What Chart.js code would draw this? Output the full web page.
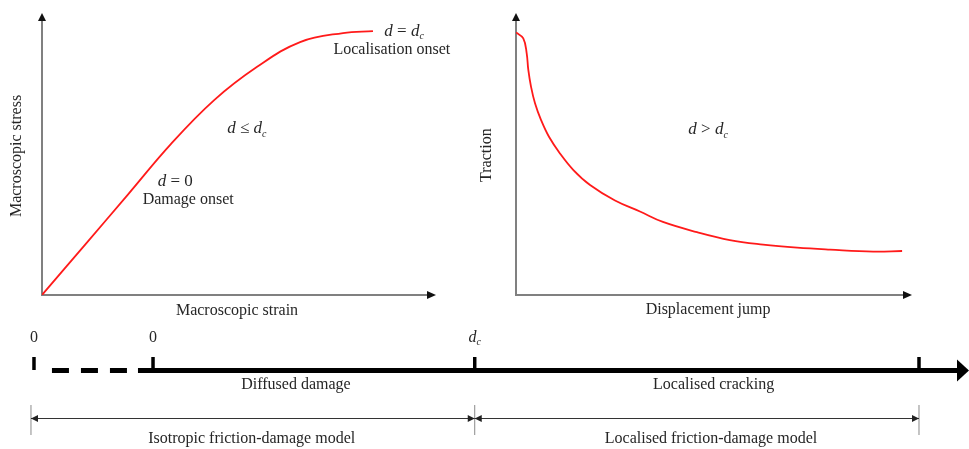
<!DOCTYPE html>
<html>
<head>
<meta charset="utf-8">
<script src="https://cdn.jsdelivr.net/npm/chart.js@4"></script>
<style>
  html, body { margin: 0; padding: 0; background: #fff; }
  #wrap { position: relative; width: 969px; height: 449px; overflow: hidden; }
  .box { position: absolute; }
</style>
</head>
<body>
<div id="wrap">
  <div class="box" style="left:0;top:0;width:470px;height:325px"><canvas id="stressChart"></canvas></div>
  <div class="box" style="left:470px;top:0;width:499px;height:325px"><canvas id="tractionChart"></canvas></div>
  <div class="box" style="left:0;top:320px;width:969px;height:129px"><canvas id="stageChart"></canvas></div>
</div>
<script>
// DATA
// left panel: macroscopic stress vs strain (arbitrary units, 0-100)
const strain = [0, 10.9, 21.8, 32.7, 43.7, 54.6, 65.5, 76.4, 84.0];
const stress = [0, 17.8, 35.6, 53.5, 69.1, 80.9, 89.7, 92.9, 93.6];

// right panel: traction vs displacement jump
const jump     = [0, 1.84, 2.70, 3.11, 3.79, 4.80, 6.31, 8.33, 11.1, 14.5, 18.7, 25.0, 31.3, 37.1, 45.7, 54.0, 62.4, 71.0, 79.3, 90.2, 97.5];
const traction = [93.1, 91.0, 85.7, 79.8, 73.9, 68.0, 62.1, 56.1, 50.2, 44.3, 39.0, 33.5, 29.6, 25.9, 22.3, 19.5, 17.9, 16.8, 16.1, 15.4, 15.6];

// bottom: damage stages
const stageTicks = [0, 0.1345, 0.498, 1];
const stageTickLabels = ['0', '0', 'd_c', ''];
const dashedSpan = [0.0203, 0.1175];
const solidSpan = [0.1175, 1.046];
const phaseLabels = ['Diffused damage', 'Localised cracking'];
const phaseLabelAt = [0.296, 0.768];
const modelSpans = [[-0.0034, 0.498], [0.498, 1]];
const modelLabels = ['Isotropic friction-damage model', 'Localised friction-damage model'];
const modelLabelAt = [0.246, 0.765];

const SERIF = '"Liberation Serif", "Times New Roman", serif';
const INK = '#262626';

// draws text made of parts: n = normal, i = italic, s = italic subscript
function drawParts(ctx, parts, cx, cy, size) {
  const fontOf = (st) => st === 'n' ? `${size}px ${SERIF}` :
    st === 'i' ? `italic ${size}px ${SERIF}` : `italic ${Math.round(size * 0.6)}px ${SERIF}`;
  let total = 0;
  parts.forEach(([t, st]) => { ctx.font = fontOf(st); total += ctx.measureText(t).width; });
  let x = cx - total / 2;
  ctx.fillStyle = INK;
  ctx.textAlign = 'left';
  ctx.textBaseline = 'middle';
  parts.forEach(([t, st]) => {
    ctx.font = fontOf(st);
    ctx.fillText(t, x, st === 's' ? cy + size * 0.32 : cy);
    x += ctx.measureText(t).width;
  });
}

function mathOf(label) {
  if (label === 'd_c') return [['d', 'i'], ['c', 's']];
  return [[label, 'n']];
}

function arrowHead(ctx, x, y, dir, len, half) {
  ctx.beginPath();
  if (dir === 'up') { ctx.moveTo(x, y); ctx.lineTo(x - half, y + len); ctx.lineTo(x + half, y + len); }
  else if (dir === 'right') { ctx.moveTo(x, y); ctx.lineTo(x - len, y - half); ctx.lineTo(x - len, y + half); }
  else { ctx.moveTo(x, y); ctx.lineTo(x + len, y - half); ctx.lineTo(x + len, y + half); }
  ctx.closePath();
  ctx.fill();
}

// axes with arrows + titles + notes for the two curve panels
function panelPlugin(cfg) {
  return {
    id: 'panel_' + cfg.id,
    beforeDatasetsDraw(chart) {
      const { ctx, chartArea: a } = chart;
      ctx.save();
      ctx.strokeStyle = '#808080';
      ctx.lineWidth = 2;
      ctx.beginPath();
      ctx.moveTo(a.left, a.top + 6);
      ctx.lineTo(a.left, a.bottom);
      ctx.lineTo(a.right - 6, a.bottom);
      ctx.stroke();
      ctx.fillStyle = '#111';
      arrowHead(ctx, a.left, a.top, 'up', 8, 4);
      arrowHead(ctx, a.right, a.bottom, 'right', 9, 4);
      ctx.restore();
    },
    afterDraw(chart) {
      const { ctx, chartArea: a, scales } = chart;
      ctx.save();
      drawParts(ctx, [[cfg.xTitle, 'n']], scales.x.getPixelForValue(cfg.xTitleAt), a.bottom + cfg.xTitleGap, 16);
      ctx.translate(a.left - cfg.yTitleGap, scales.y.getPixelForValue(cfg.yTitleAt));
      ctx.rotate(-Math.PI / 2);
      drawParts(ctx, [[cfg.yTitle, 'n']], 0, 0, 16);
      ctx.setTransform(1, 0, 0, 1, 0, 0);
      cfg.notes.forEach(n => {
        drawParts(ctx, n.parts, scales.x.getPixelForValue(n.x), scales.y.getPixelForValue(n.y), n.size || 16);
      });
      ctx.restore();
    }
  };
}

function curveConfig(xs, ys, padding, plugin) {
  return {
    type: 'line',
    data: {
      datasets: [{
        data: xs.map((x, i) => ({ x: x, y: ys[i] })),
        borderColor: '#ff1a1a',
        borderWidth: 1.8,
        pointRadius: 0,
        tension: 0.4,
        fill: false,
      }]
    },
    options: {
      responsive: true,
      maintainAspectRatio: false,
      animation: false,
      events: [],
      layout: { padding: padding, autoPadding: false },
      plugins: { legend: { display: false }, tooltip: { enabled: false } },
      scales: {
        x: { type: 'linear', min: 0, max: 100, display: false },
        y: { type: 'linear', min: 0, max: 100, display: false },
      }
    },
    plugins: [plugin]
  };
}

const EQ = [' = ', 'n'];
const D = ['d', 'i'];
const C = ['c', 's'];

new Chart(document.getElementById('stressChart'), curveConfig(strain, stress,
  { left: 42, top: 13, right: 34, bottom: 30 },
  panelPlugin({
    id: 'stress',
    xTitle: 'Macroscopic strain', xTitleAt: 49.5, xTitleGap: 16,
    yTitle: 'Macroscopic stress', yTitleAt: 49.3, yTitleGap: 25,
    notes: [
      { parts: [D, EQ, D, C], x: 91.9, y: 93.6, size: 17 },
      { parts: [['Localisation onset', 'n']], x: 88.8, y: 86.9 },
      { parts: [D, [' \u2264 ', 'n'], D, C], x: 52.0, y: 58.9, size: 17 },
      { parts: [D, EQ, ['0', 'n']], x: 33.8, y: 40.1, size: 17 },
      { parts: [['Damage onset', 'n']], x: 37.1, y: 33.7 },
    ]
  })));

new Chart(document.getElementById('tractionChart'), curveConfig(jump, traction,
  { left: 46, top: 13, right: 57, bottom: 30 },
  panelPlugin({
    id: 'traction',
    xTitle: 'Displacement jump', xTitleAt: 48.5, xTitleGap: 15,
    yTitle: 'Traction', yTitleAt: 49.6, yTitleGap: 29,
    notes: [
      { parts: [D, [' > ', 'n'], D, C], x: 48.5, y: 58.5, size: 17 },
    ]
  })));

// rows of the stage strip, measured from its top edge
const AXIS_Y = 50.5, TICK_Y = 43.5, LABEL_Y = 17.5, PHASE_Y = 65, DIM_Y = 98.5, DIM_MID = 100, MODEL_Y = 118.5;

const stagePlugin = {
  id: 'stages',
  afterDatasetsDraw(chart) {
    const { ctx, scales } = chart;
    const px = (v) => scales.x.getPixelForValue(v);
    const py = (v) => scales.y.getPixelForValue(v);
    ctx.save();
    ctx.fillStyle = '#000';
    arrowHead(ctx, px(scales.x.max), py(AXIS_Y), 'right', 12, 11);
    ctx.fillStyle = '#222';
    modelSpans.forEach(([a, b]) => {
      arrowHead(ctx, px(a), py(DIM_Y), 'left', 7, 3.5);
      arrowHead(ctx, px(b), py(DIM_Y), 'right', 7, 3.5);
    });
    stageTicks.forEach((t, i) => {
      if (stageTickLabels[i]) drawParts(ctx, mathOf(stageTickLabels[i]), px(t), py(LABEL_Y), 16);
    });
    phaseLabels.forEach((l, i) => drawParts(ctx, [[l, 'n']], px(phaseLabelAt[i]), py(PHASE_Y), 16));
    modelLabels.forEach((l, i) => drawParts(ctx, [[l, 'n']], px(modelLabelAt[i]), py(MODEL_Y), 16));
    ctx.restore();
  }
};

const flat = (span, y) => span.map(x => ({ x: x, y: y }));

new Chart(document.getElementById('stageChart'), {
  type: 'line',
  data: {
    datasets: [
      { data: flat(dashedSpan, AXIS_Y), borderColor: '#000', borderWidth: 5, borderDash: [17, 12], pointRadius: 0 },
      { data: flat(solidSpan, AXIS_Y), borderColor: '#000', borderWidth: 5, pointRadius: 0 },
      { type: 'scatter', data: flat(stageTicks, TICK_Y), pointStyle: 'line', rotation: 90,
        pointRadius: 6.5, borderWidth: 3.5, borderColor: '#000' },
      ...modelSpans.map(s => ({ data: flat(s, DIM_Y), borderColor: '#333', borderWidth: 1, pointRadius: 0 })),
      { type: 'scatter', data: flat([modelSpans[0][0], modelSpans[0][1], modelSpans[1][1]], DIM_MID),
        pointStyle: 'line', rotation: 90, pointRadius: 15, borderWidth: 1, borderColor: '#8a8a8a' },
    ]
  },
  options: {
    responsive: true,
    maintainAspectRatio: false,
    animation: false,
    events: [],
    layout: { padding: 0, autoPadding: false },
    plugins: { legend: { display: false }, tooltip: { enabled: false } },
    scales: {
      x: { type: 'linear', min: -0.0384, max: 1.0565, display: false },
      y: { type: 'linear', min: 0, max: 129, reverse: true, display: false },
    }
  },
  plugins: [stagePlugin]
});
</script>
</body>
</html>
